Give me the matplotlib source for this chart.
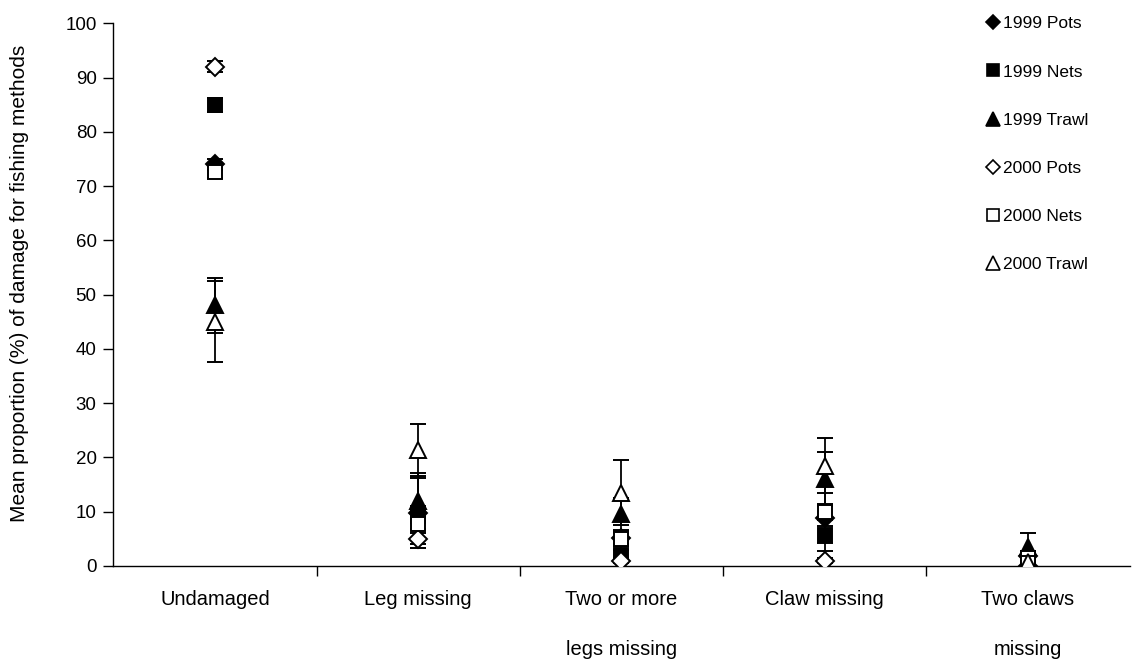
import matplotlib
matplotlib.use("Agg")
import matplotlib.pyplot as plt
import numpy as np

plt.rcParams['font.family'] = ['Liberation Sans', 'DejaVu Sans']

categories = ["Undamaged", "Leg missing", "Two or more\nlegs missing", "Claw missing", "Two claws\nmissing"]
series_names = ["1999 Pots", "1999 Nets", "1999 Trawl", "2000 Pots", "2000 Nets", "2000 Trawl"]

pots_1999 = [74, 9.8, 5.2, 8.8, 1.8]
nets_1999 = [85, 9.5, 2.0, 5.8, 0.3]
trawl_1999 = [48, 12, 9.5, 16, 3.5]
pots_2000 = [92, 5.0, 1.0, 1.0, 0.0]
nets_2000 = [72.5, 7.8, 5.0, 10.0, 1.5]
trawl_2000 = [45, 21.4, 13.5, 18.5, 0.8]

err_pots_1999 = [1, 6.5, 1.5, 6, 1]
err_nets_1999 = [1.3, 1.5, 1, 1.5, 0.5]
err_trawl_1999 = [5, 5.2, 3, 5, 2.5]
err_pots_2000 = [1, 1, 0.5, 0.5, 0.3]
err_nets_2000 = [1, 1, 1, 1.5, 1]
err_trawl_2000 = [7.5, 4.8, 6, 5, 1]

values = [pots_1999, nets_1999, trawl_1999, pots_2000, nets_2000, trawl_2000]
errors = [err_pots_1999, err_nets_1999, err_trawl_1999, err_pots_2000, err_nets_2000, err_trawl_2000]
markers = ['D', 's', '^', 'D', 's', '^']
faces = ['black', 'black', 'black', 'white', 'white', 'white']
sizes = [9, 10.5, 12, 9, 10.5, 12]

fig = plt.figure(figsize=(11.33, 6.64), dpi=100)
ax = fig.add_axes([0.100, 0.1476, 0.897, 0.8174])

x = np.arange(len(categories))
handles = []
for i, (vals, errs) in enumerate(zip(values, errors)):
    ax.errorbar(x, vals, yerr=errs, fmt=markers[i], ms=sizes[i], mfc=faces[i], mec='black',
                mew=1.4, ecolor='black', elinewidth=1.3, capsize=6, capthick=1.3,
                zorder=3 + i, label=series_names[i])
    handles.append(ax.plot([], [], linestyle='none', marker=markers[i], ms=sizes[i] * 0.8,
                           mfc=faces[i], mec='black', mew=1.2)[0])

ax.set_xlim(-0.5, len(categories) - 0.5)
ax.set_ylim(0, 100)
ax.set_yticks(np.arange(0, 101, 10))
ax.set_xticks(x)
ax.set_xticklabels(categories, fontsize=14.5, linespacing=3.1)
ax.set_xticks(np.arange(0.5, len(categories) - 0.5, 1), minor=True)
ax.tick_params(axis='x', which='major', length=0, pad=17)
ax.tick_params(axis='x', which='minor', length=7, width=1, direction='out')
ax.tick_params(axis='y', labelsize=13.5, length=7, width=1, direction='out', pad=5)
for s in ['top', 'right']:
    ax.spines[s].set_visible(False)
ax.spines['left'].set_linewidth(1)
ax.spines['bottom'].set_linewidth(1)
ax.set_ylabel("Mean proportion (%) of damage for fishing methods", fontsize=15)
ax.yaxis.set_label_coords(-0.083, 0.52)

fig.legend(handles, series_names, loc='upper left', bbox_to_anchor=(0.862, 0.986), frameon=False,
           fontsize=12.5, labelspacing=1.9, handletextpad=0.0, handlelength=1.1, borderaxespad=0)

fig.savefig("out.png", dpi=100)
